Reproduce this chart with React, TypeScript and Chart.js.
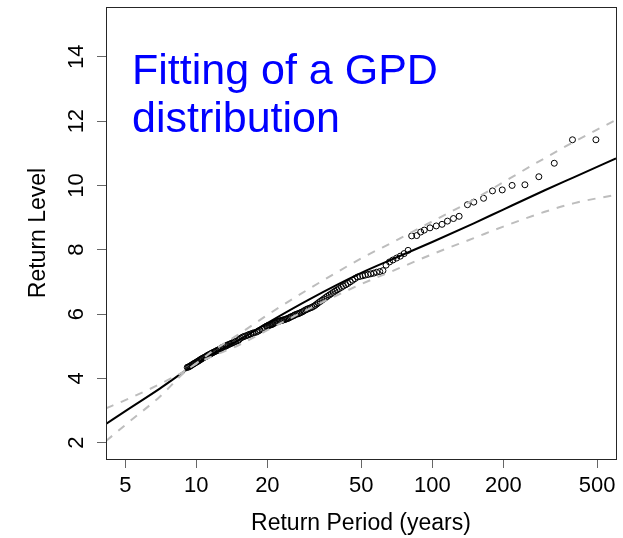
import { useEffect, useRef } from 'react';
import { Chart, registerables } from 'chart.js';

Chart.register(...registerables);

const FONT = '"Liberation Sans", Arial, Helvetica, sans-serif';

// Axis ticks
const periodTicks = [5, 10, 20, 50, 100, 200, 500];
const levelTicks = [2, 4, 6, 8, 10, 12, 14];

// Fitted GPD return-level curve
const fitPeriods = [4.14, 5, 7, 9.4, 12, 15, 20, 30, 50, 70, 100, 150, 200, 300, 400, 601];
const fitLevels = [2.58, 2.98, 3.68, 4.33, 4.8, 5.17, 5.72, 6.45, 7.28, 7.75, 8.24, 8.82, 9.25, 9.85, 10.26, 10.84];

// Confidence band
const bandPeriods = [4.14, 5, 7, 9.4, 12, 15, 20, 30, 50, 70, 100, 150, 200, 300, 400, 601];
const upperLevels = [3.07, 3.32, 3.82, 4.33, 4.9, 5.35, 5.97, 6.78, 7.73, 8.28, 8.88, 9.56, 10.1, 10.85, 11.36, 12.04];
const lowerLevels = [2.05, 2.55, 3.43, 4.33, 4.72, 5.02, 5.5, 6.16, 6.93, 7.38, 7.86, 8.36, 8.72, 9.18, 9.45, 9.71];

// Observed exceedances (return period in years, level)
const obsPeriods = [
  494, 393, 329, 283, 247, 218, 198, 180, 165, 150, 141, 130, 123, 116, 110, 104, 97.8, 92.5, 89.3, 85.9, 81.8,
  79.0, 76.0, 73.2, 70.6, 68.1, 65.9, 63.7, 61.8, 59.9, 58.1, 56.5, 54.9, 53.4, 52.0, 50.7, 49.4, 48.2, 47.0,
  46.0, 44.9, 43.9, 43.0, 42.0, 41.2, 40.3, 39.5, 38.7, 38.0, 37.3, 36.6, 35.9, 35.3, 34.7, 34.1, 33.5, 32.9,
  32.4, 31.9, 31.4, 30.9, 30.4, 29.9, 29.5, 29.1, 28.6, 28.2, 27.8, 27.4, 27.1, 26.7, 26.3, 26.0, 25.7, 25.3,
  25.0, 24.7, 24.4, 24.1, 23.8, 23.5, 23.2, 23.0, 22.7, 22.5, 22.2, 22.0, 21.7, 21.5, 21.2, 21.0, 20.8, 20.6,
  20.4, 20.2, 20.0, 19.8, 19.4, 19.0, 18.6, 18.3, 18.0, 17.6, 17.3, 17.0, 16.7, 16.5, 16.2, 15.9, 15.7, 15.4,
  15.2, 15.0, 14.7, 14.5, 14.3, 14.1, 13.9, 13.7, 13.5, 13.4, 13.2, 13.0, 12.8, 12.7, 12.5, 12.35, 12.2, 12.05,
  11.9, 11.75, 11.6, 11.5, 11.35, 11.2, 11.1, 11.0, 10.85, 10.75, 10.6, 10.5, 10.4, 10.3, 10.2, 10.1, 10.0,
  9.88, 9.78, 9.69, 9.59, 9.5, 9.41, 9.32, 9.23, 9.15,
];
const obsLevels = [
  11.42, 11.42, 10.69, 10.27, 10.02, 10.0, 9.86, 9.83, 9.6, 9.48, 9.4, 9.04, 8.97, 8.89, 8.79, 8.74, 8.68, 8.61, 8.55, 8.44, 8.43,
  7.98, 7.88, 7.8, 7.74, 7.68, 7.62, 7.52, 7.35, 7.32, 7.3, 7.27, 7.25, 7.23, 7.21, 7.19, 7.17, 7.15, 7.1,
  7.05, 7.0, 6.95, 6.91, 6.87, 6.83, 6.79, 6.75, 6.71, 6.67, 6.63, 6.59, 6.55, 6.51, 6.47, 6.43, 6.39, 6.35,
  6.31, 6.27, 6.24, 6.21, 6.19, 6.17, 6.15, 6.13, 6.1, 6.07, 6.05, 6.03, 6.01, 6.0, 5.98, 5.96, 5.94, 5.92,
  5.9, 5.88, 5.86, 5.85, 5.83, 5.82, 5.81, 5.8, 5.79, 5.78, 5.77, 5.76, 5.74, 5.72, 5.7, 5.68, 5.67, 5.66,
  5.65, 5.64, 5.63, 5.62, 5.58, 5.54, 5.5, 5.47, 5.44, 5.42, 5.4, 5.38, 5.36, 5.34, 5.32, 5.3, 5.28, 5.25,
  5.21, 5.17, 5.15, 5.13, 5.11, 5.09, 5.07, 5.05, 5.03, 5.01, 4.99, 4.97, 4.95, 4.92, 4.9, 4.88, 4.86, 4.84,
  4.82, 4.8, 4.78, 4.76, 4.74, 4.72, 4.7, 4.68, 4.66, 4.64, 4.62, 4.6, 4.58, 4.56, 4.54, 4.52, 4.5,
  4.48, 4.46, 4.44, 4.42, 4.4, 4.38, 4.36, 4.35, 4.34,
];

const toXY = (xs: number[], ys: number[]) => xs.map((x, i) => ({ x, y: ys[i] }));

// Frame around the plotting region plus vertical (rotated) level labels
const framePlugin = {
  id: 'rlFrame',
  afterDraw(chart: any) {
    const { ctx, chartArea: a, scales } = chart;
    ctx.save();
    ctx.strokeStyle = '#262626';
    ctx.lineWidth = 1;
    ctx.strokeRect(Math.round(a.left) + 0.5, Math.round(a.top) + 0.5, Math.round(a.right - a.left), Math.round(a.bottom - a.top));
    const fs = 22;
    ctx.fillStyle = '#000';
    ctx.font = `${fs}px ${FONT}`;
    ctx.textAlign = 'center';
    ctx.textBaseline = 'alphabetic';
    for (const t of scales.y.ticks) {
      const y = scales.y.getPixelForValue(t.value);
      ctx.save();
      ctx.translate(75, y);
      ctx.rotate(-Math.PI / 2);
      ctx.fillText(String(t.value), 0, fs * 0.358);
      ctx.restore();
    }
    ctx.restore();
  },
};

export default function App() {
  const canvasRef = useRef<HTMLCanvasElement | null>(null);

  useEffect(() => {
    const canvas = canvasRef.current;
    if (!canvas) return;
    Chart.defaults.font.family = FONT;
    const chart = new Chart(canvas, {
      type: 'scatter',
      data: {
        datasets: [
          {
            label: 'upper',
            type: 'line',
            data: toXY(bandPeriods, upperLevels),
            borderColor: '#bdbdbd',
            borderWidth: 2,
            borderDash: [8, 8],
            pointRadius: 0,
            fill: false,
            cubicInterpolationMode: 'monotone',
            order: 0,
          },
          {
            label: 'lower',
            type: 'line',
            data: toXY(bandPeriods, lowerLevels),
            borderColor: '#bdbdbd',
            borderWidth: 2,
            borderDash: [8, 8],
            pointRadius: 0,
            fill: false,
            cubicInterpolationMode: 'monotone',
            order: 0,
          },
          {
            label: 'fit',
            type: 'line',
            data: toXY(fitPeriods, fitLevels),
            borderColor: '#000000',
            borderWidth: 2,
            pointRadius: 0,
            fill: false,
            cubicInterpolationMode: 'monotone',
            order: 1,
          },
          {
            label: 'observed',
            data: toXY(obsPeriods, obsLevels),
            borderColor: '#000000',
            backgroundColor: 'rgba(0,0,0,0)',
            borderWidth: 1,
            pointRadius: 3,
            pointStyle: 'circle',
            order: 2,
          },
        ],
      },
      options: {
        responsive: false,
        animation: false,
        devicePixelRatio: 1,
        layout: { padding: { top: 7, right: 7, left: 0, bottom: 0 } },
        plugins: {
          legend: { display: false },
          tooltip: { enabled: false },
        },
        scales: {
          x: {
            type: 'logarithmic',
            position: 'bottom',
            min: 4.14,
            max: 601,
            afterBuildTicks: (scale: any) => {
              scale.ticks = periodTicks.map((value) => ({ value }));
            },
            afterFit: (scale: any) => {
              scale.height = 79;
            },
            grid: { drawOnChartArea: false, drawTicks: true, tickLength: 9, color: '#666', lineWidth: 1 },
            border: { display: false },
            ticks: {
              autoSkip: false,
              maxRotation: 0,
              minRotation: 0,
              padding: 5,
              color: '#000',
              font: { size: 22, family: FONT },
              callback: (v: any) => String(v),
            },
            title: {
              display: true,
              text: 'Return Period (years)',
              color: '#000',
              font: { size: 23, family: FONT },
              padding: { top: 0, bottom: 1 },
            },
          },
          y: {
            type: 'linear',
            position: 'left',
            min: 1.49,
            max: 15.55,
            afterBuildTicks: (scale: any) => {
              scale.ticks = levelTicks.map((value) => ({ value }));
            },
            afterFit: (scale: any) => {
              scale.width = 106;
            },
            grid: { drawOnChartArea: false, drawTicks: true, tickLength: 9, color: '#666', lineWidth: 1 },
            border: { display: false },
            ticks: { display: false },
            title: {
              display: true,
              text: 'Return Level',
              color: '#000',
              font: { size: 23, family: FONT },
              padding: { top: 25, bottom: 0 },
            },
          },
        },
      },
      plugins: [framePlugin],
    });
    return () => chart.destroy();
  }, []);

  return (
    <div style={{ position: 'fixed', left: 0, top: 0, width: 623, height: 538, background: '#fff' }}>
      <canvas ref={canvasRef} width={623} height={538} style={{ display: 'block', width: 623, height: 538 }} />
      <div
        style={{
          position: 'absolute',
          left: 132,
          top: 45,
          fontFamily: FONT,
          fontSize: 43,
          lineHeight: '48px',
          color: '#0000ff',
          whiteSpace: 'nowrap',
          pointerEvents: 'none',
        }}
      >
        Fitting of a GPD
        <br />
        distribution
      </div>
    </div>
  );
}
